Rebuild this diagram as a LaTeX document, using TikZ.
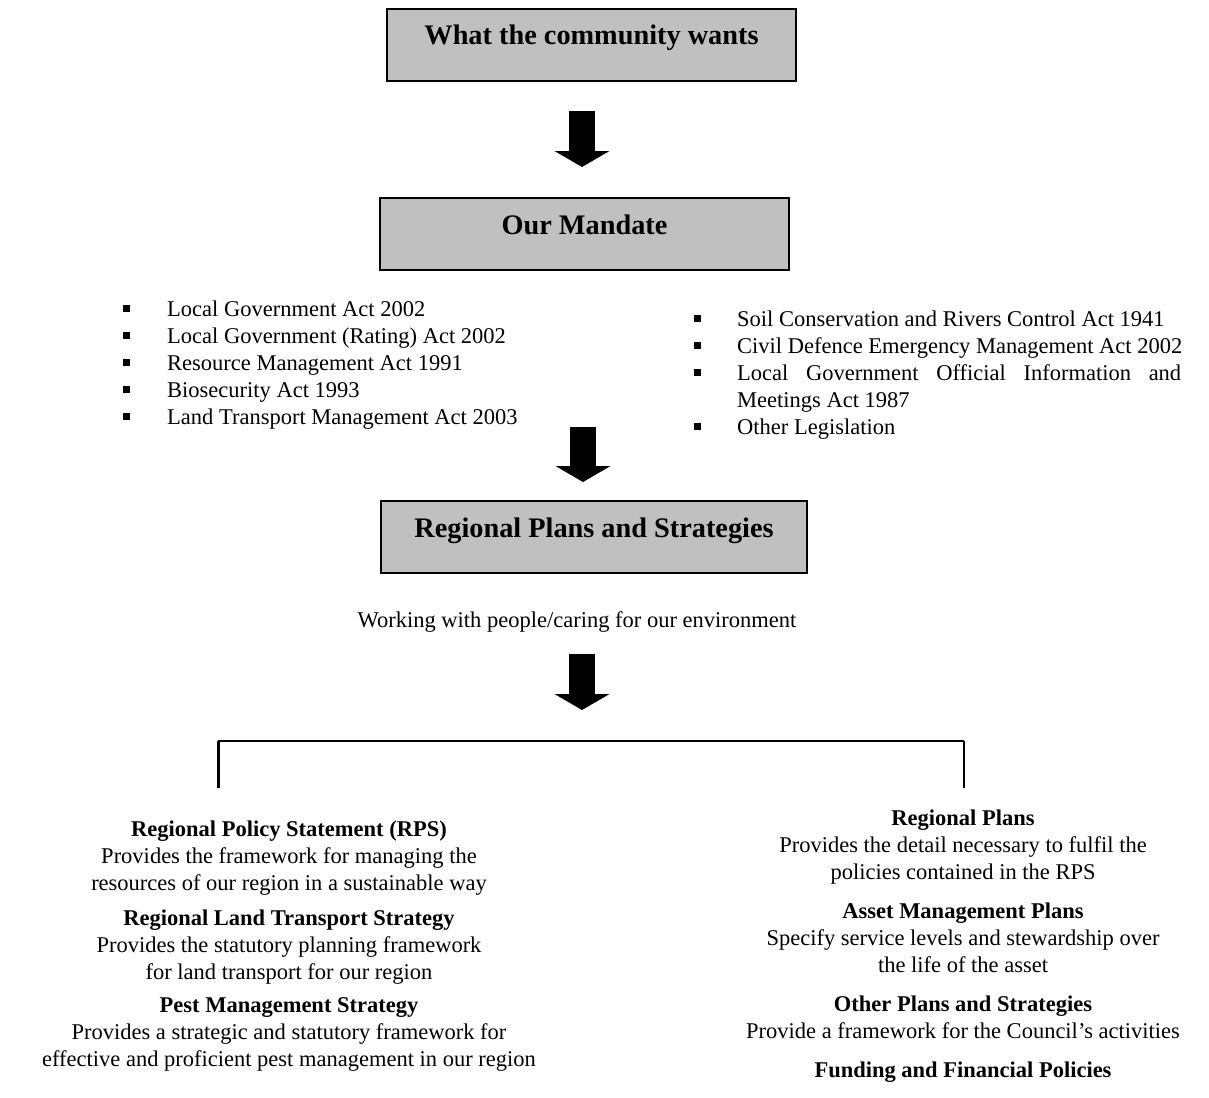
\documentclass[tikz,border=0pt]{standalone}
\usepackage{fontspec}
\setmainfont{Liberation Serif}
\usepackage{tikz}
\usetikzlibrary{arrows.meta,positioning}
\definecolor{boxgrey}{HTML}{C0C0C0}
\newcommand{\bodysize}{\fontsize{22.5}{27}\selectfont}
\newcommand{\titlesize}{\fontsize{28.3}{34}\selectfont}
\tikzset{titlebox/.style={draw=black,fill=boxgrey,line width=1.5pt,minimum width=#1,inner sep=0pt,text height=36pt,text depth=36pt,font=\titlesize\bfseries},blockarrow/.style={line width=26pt,-{Triangle[width=55pt,length=16pt,line width=0pt]}},listitem/.style={anchor=base west,inner sep=0pt,font=\bodysize},bulletsq/.style={fill=black,minimum size=7pt,inner sep=0pt},blocktext/.style={align=center,inner sep=0pt,font=\bodysize},bracketline/.style={draw=black,line width=#1}}

\begin{document}
\begin{tikzpicture}[x=1pt,y=-1pt]
\useasboundingbox (0,0) rectangle (1209,1097);
\node[titlebox=409pt] (community) at (591.5,45) {What the community wants};
\node[titlebox=409pt] (mandate) at (584.5,234) {Our Mandate};
\node[titlebox=426pt] (plans) at (594,537) {Regional Plans and Strategies};
\coordinate (a1top) at (582,111); \coordinate (a1tip) at (582,167);
\coordinate (a2top) at (583,427); \coordinate (a2tip) at (583,482);
\coordinate (a3top) at (582,654); \coordinate (a3tip) at (582,710);
\draw[blockarrow] (a1top)--(a1tip);
\draw[blockarrow] (a2top)--(a2tip);
\draw[blockarrow] (a3top)--(a3tip);
\foreach \y/\txt [count=\i] in {316/{Local Government Act 2002},343/{Local Government (Rating) Act 2002},370/{Resource Management Act 1991},397/{Biosecurity Act 1993},424/{Land Transport Management Act 2003}} {
  \node[bulletsq] (lb\i) at (126,\y-8) {};
  \node[listitem] (la\i) at (167,\y) {\txt};}
\foreach \y/\txt [count=\i] in {326/{Soil Conservation and Rivers Control Act 1941},353/{Civil Defence Emergency Management Act 2002},380/{\makebox[444pt][s]{Local Government Official Information and}},434/{Other Legislation}} {
  \node[bulletsq] (rb\i) at (697,\y-8) {};
  \node[listitem] (ra\i) at (737,\y) {\txt};}
\node[listitem] (ra3b) at (737,407) {Meetings Act 1987};
\node[blocktext] (working) at (577,622) {Working with people/caring for our environment};
\coordinate (brbl) at (218,788); \coordinate (brtl) at (218,741);
\coordinate (brtr) at (964,741); \coordinate (brbr) at (964,788);
\draw[bracketline=1.6pt] (brtl)--(brtr);
\draw[bracketline=3pt] (brbl)--(brtl);
\draw[bracketline=2.4pt] (brtr)--(brbr);
\node[blocktext] (rps) at (289,858) {\textbf{Regional Policy Statement (RPS)}\\Provides the framework for managing the\\resources of our region in a sustainable way};
\node[blocktext] (rlts) at (289,947) {\textbf{Regional Land Transport Strategy}\\Provides the statutory planning framework\\for land transport for our region};
\node[blocktext] (pms) at (289,1034) {\textbf{Pest Management Strategy}\\Provides a strategic and statutory framework for\\effective and proficient pest management in our region};
\node[blocktext] (regplans) at (963,847) {\textbf{Regional Plans}\\Provides the detail necessary to fulfil the\\policies contained in the RPS};
\node[blocktext] (amp) at (963,938) {\textbf{Asset Management Plans}\\Specify service levels and stewardship over\\the life of the asset};
\node[blocktext] (otherplans) at (963,1017) {\textbf{Other Plans and Strategies}\\Provide a framework for the Council's activities};
\node[blocktext] (funding) at (963,1072) {\textbf{Funding and Financial Policies}};
\end{tikzpicture}
\end{document}
